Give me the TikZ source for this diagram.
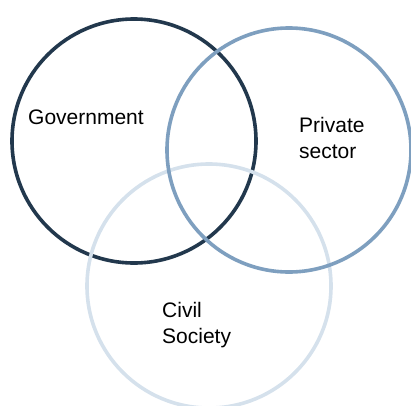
\documentclass[tikz,border=0pt]{standalone}
\usepackage{fontspec}
\setmainfont{Liberation Sans}
\definecolor{govcol}{HTML}{22384D}
\definecolor{privcol}{HTML}{7E9FBF}
\definecolor{civcol}{HTML}{D5E1EC}
\begin{document}
\begin{tikzpicture}[x=1pt,y=-1pt,
  ring/.style={circle,draw,line width=3.6pt,inner sep=0pt,minimum size=244pt},
  lbl/.style={anchor=north west,inner sep=0pt,align=left,font=\fontsize{21}{26}\selectfont}]
\useasboundingbox (0,0) rectangle (411,405);
\node[ring,draw=govcol] (gov) at (134,141) {};
\node[ring,draw=civcol] (civ) at (209,286) {};
\node[ring,draw=privcol] (priv) at (289,150) {};
\node[lbl] (govt) at (28,110) {Government};
\node[lbl] (privt) at (299,117) {Private\\sector};
\node[lbl] (civt) at (162,302) {Civil\\Society};
\end{tikzpicture}
\end{document}
